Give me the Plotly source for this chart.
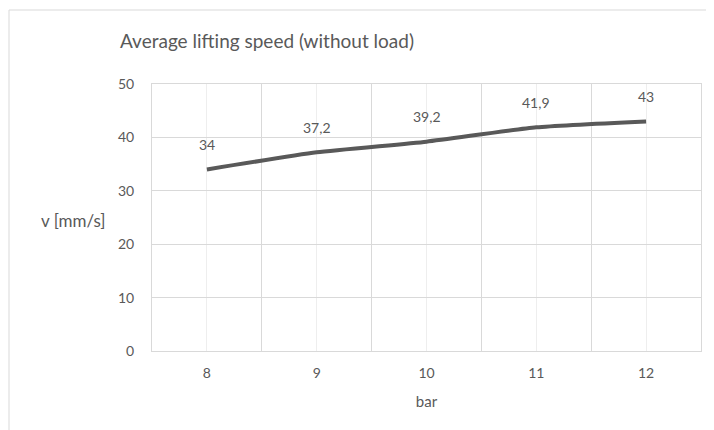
import plotly.graph_objects as go

pressure_bar = [8, 9, 10, 11, 12]
speed_mm_s = [34, 37.2, 39.2, 41.9, 43]
speed_labels = ["34", "37,2", "39,2", "41,9", "43"]
y_ticks = [0, 10, 20, 30, 40, 50]

TXT = "#595959"
GRID = "#d9d9d9"
FONT = "Lato, 'Open Sans', sans-serif"

# page has an 8px body offset; plot area target (page coords): x 152..701, y 84..351
OFF = 8
L, R, T, B = 152 - OFF, 701 - OFF, 84 - OFF, 351 - OFF
W, H = 714, 430
PW, PH = R - L, B - T

fig = go.Figure()
fig.add_trace(go.Scatter(
    x=pressure_bar, y=speed_mm_s, mode="lines",
    line=dict(color="#595959", width=4, shape="spline", smoothing=0.5),
    hoverinfo="skip", showlegend=False,
))

for xv, yv, lab in zip(pressure_bar, speed_mm_s, speed_labels):
    fig.add_annotation(x=xv, y=yv, text=lab, showarrow=False, yshift=25,
                       font=dict(size=14, color=TXT, family=FONT))

fig.update_layout(
    width=W, height=H,
    margin=dict(l=L, r=W - R, t=T, b=H - B, autoexpand=False),
    paper_bgcolor="white", plot_bgcolor="white",
    font=dict(family=FONT, color=TXT, size=14),
    title=dict(text="Average lifting speed (without load)", x=(267 - OFF) / W, xanchor="center",
               y=1 - (41 - OFF) / H, yanchor="middle",
               font=dict(size=19, color=TXT, family=FONT)),
)
fig.update_xaxes(
    range=[7.5, 12.5], tickvals=pressure_bar, ticktext=[str(v) for v in pressure_bar],
    showgrid=True, gridcolor="#eeeeee", gridwidth=1,
    minor=dict(tick0=7.5, dtick=1, showgrid=True, gridcolor=GRID, gridwidth=1, ticks=""),
    showline=True, linecolor=GRID, linewidth=1, mirror=True,
    zeroline=False, ticks="", ticklabelstandoff=9,
    tickfont=dict(size=14, color=TXT),
    title=dict(text="bar", font=dict(size=15, color=TXT), standoff=16),
)
fig.update_yaxes(
    range=[0, 50], tickvals=y_ticks,
    showgrid=True, gridcolor=GRID, gridwidth=1,
    showline=True, linecolor=GRID, linewidth=1, mirror=True,
    zeroline=False, ticks="", ticklabelstandoff=14,
    tickfont=dict(size=14, color=TXT),
)
# horizontal y-axis title
fig.add_annotation(text="v [mm/s]", xref="paper", yref="paper",
                   x=-(152 - 108) / PW, xanchor="right", y=(351 - 220) / PH,
                   yanchor="middle", showarrow=False,
                   font=dict(size=17, color=TXT, family=FONT))
# outer chart frame (left and top edges visible)
fx = -(152 - 9) / PW
fy = (351 - 10) / PH
fig.add_shape(type="line", xref="paper", yref="paper",
              x0=fx, x1=(W - L) / PW + 0.02, y0=fy, y1=fy,
              line=dict(color=GRID, width=1))
fig.add_shape(type="line", xref="paper", yref="paper",
              x0=fx, x1=fx, y0=fy, y1=-(H - B) / PH - 0.05,
              line=dict(color=GRID, width=1))

fig.write_html("out.html")
